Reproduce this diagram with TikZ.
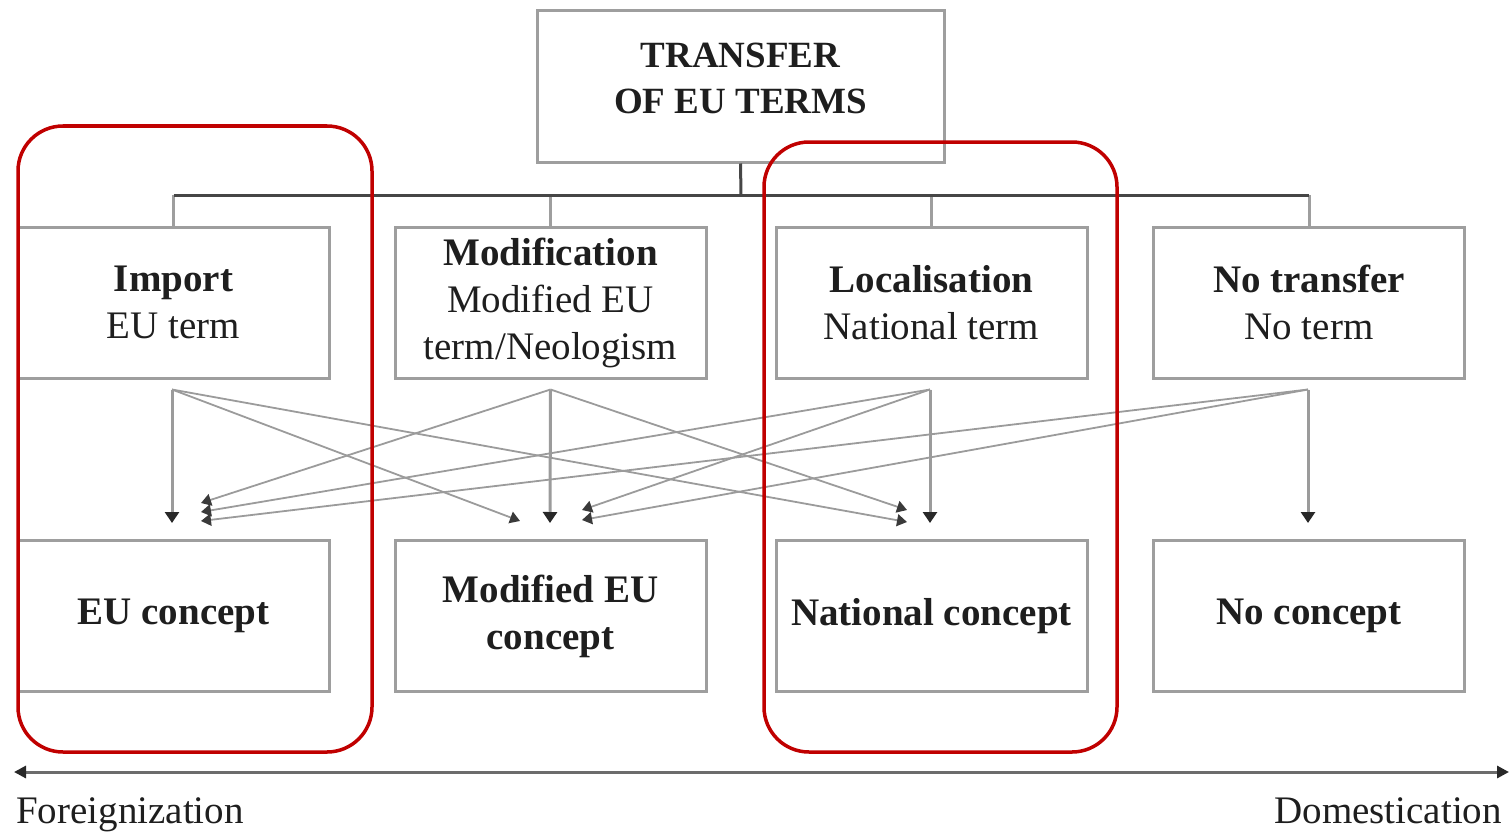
\documentclass[tikz,border=0pt]{standalone}
\usepackage{fontspec}
\setmainfont{Liberation Serif}
\usetikzlibrary{arrows.meta,calc}
\definecolor{boxgray}{RGB}{158,158,158}
\definecolor{bardark}{RGB}{70,70,70}
\definecolor{linegray}{RGB}{155,155,155}
\definecolor{tipdark}{RGB}{40,40,40}
\definecolor{redframe}{RGB}{192,0,0}
\definecolor{txt}{RGB}{30,30,30}
\begin{document}
\begin{tikzpicture}[x=1pt,y=-1pt,
  box/.style={draw=boxgray,line width=3pt,minimum width=311pt,minimum height=151pt,
    inner sep=0pt,align=center,text=txt,font=\fontsize{39pt}{47pt}\selectfont},
  titlebox/.style={box,minimum width=407pt,font=\fontsize{37pt}{46pt}\selectfont\bfseries},
  tree/.style={draw=bardark,line width=3pt},
  drop/.style={draw=boxgray,line width=3pt},
  straight/.style={draw=linegray,line width=3pt,-{Triangle[length=11pt,width=14pt,color=tipdark]}},
  cross/.style={draw=linegray,line width=1.8pt,-{Triangle[length=10pt,width=12pt,color=tipdark!80!gray]}},
  frame/.style={draw=redframe,line width=3.5pt,rounded corners=45pt},
  axis/.style={draw=gray!85!black,line width=3pt,{Triangle[length=12pt,width=12pt,color=tipdark]}-{Triangle[length=12pt,width=12pt,color=tipdark]}},
  lbl/.style={text=txt,font=\fontsize{39pt}{47pt}\selectfont,inner sep=0pt}
]
\useasboundingbox (0,0) rectangle (1511,832);

% nodes
\node[titlebox] (top) at (740.5,86.5) {TRANSFER\\OF EU TERMS\rule[-16pt]{0pt}{0pt}};
\node[box] (imp) at (173.5,302.5) {\textbf{Import}\\EU term};
\node[box] (mod) at (550.5,302.5) {\textbf{Modification}\\Modified EU\\term/Neologism};
\node[box] (loc) at (931.5,302.5) {\textbf{Localisation}\\National term};
\node[box] (not) at (1309,302.5) {\textbf{No transfer}\\No term};
\node[box] (euc) at (173.5,616) {\textbf{EU concept}};
\node[box] (mec) at (550.5,616) {\textbf{Modified EU}\\\textbf{concept}};
\node[box] (nac) at (931.5,616) {\textbf{National concept}};
\node[box] (noc) at (1309,616) {\textbf{No concept}};

% tree
\coordinate (j) at (741,195);
\draw[drop] (imp.north) -- (imp.north |- j);
\draw[drop] (mod.north) -- (mod.north |- j);
\draw[drop] (loc.north) -- (loc.north |- j);
\draw[drop] (not.north) -- (not.north |- j);
\draw[tree] (top.south) -- (j);
\draw[tree] (imp.north |- j) -- (not.north |- j);

% start points
\coordinate (s1) at ($(imp.south)+(-1.5,10)$);
\coordinate (s2) at ($(mod.south)+(0,10)$);
\coordinate (s3) at ($(loc.south)+(-1.5,10)$);
\coordinate (s4) at ($(not.south)+(-1,10)$);

% end points
\coordinate (e1a) at (172,523);
\coordinate (e1b) at (201,503);
\coordinate (e1c) at (201,512);
\coordinate (e1d) at (201,521);
\coordinate (e2a) at (520,521);
\coordinate (e2b) at (550,523);
\coordinate (e2c) at (582,510);
\coordinate (e2d) at (582,520);
\coordinate (e3a) at (907,522);
\coordinate (e3b) at (907,510);
\coordinate (e3c) at (930,523);
\coordinate (e4a) at (1308,523);

% cross arrows
\draw[cross] (s1) -- (e2a);
\draw[cross] (s1) -- (e3a);
\draw[cross] (s2) -- (e1b);
\draw[cross] (s2) -- (e3b);
\draw[cross] (s3) -- (e1c);
\draw[cross] (s3) -- (e2c);
\draw[cross] (s4) -- (e1d);
\draw[cross] (s4) -- (e2d);

% straight arrows
\draw[straight] (s1) -- (e1a);
\draw[straight] (s2) -- (e2b);
\draw[straight] (s3) -- (e3c);
\draw[straight] (s4) -- (e4a);

% red frames
\draw[frame] (18,126) rectangle (372,752);
\draw[frame] (764,142) rectangle (1117,752);

% axis
\node[lbl,anchor=base west] (fl) at (16,823) {Foreignization};
\node[lbl,anchor=base east] (dl) at (1502,823) {Domestication};
\coordinate (al) at (14,772);
\coordinate (ar) at (1509,772);
\draw[axis] (al) -- (ar);
\end{tikzpicture}
\end{document}
